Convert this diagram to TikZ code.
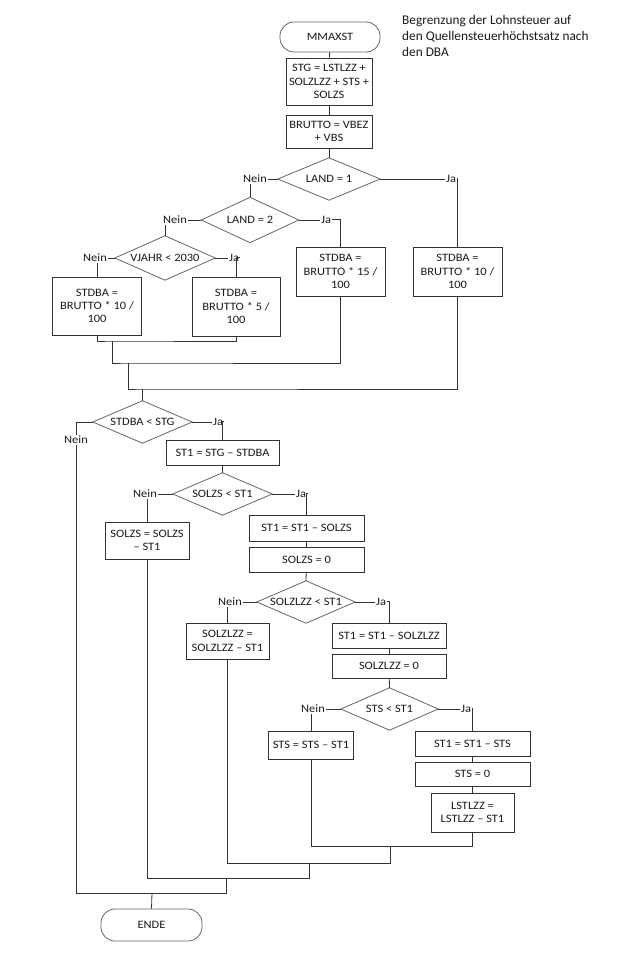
\documentclass[tikz,border=0pt]{standalone}
\usepackage{fontspec}
\setmainfont{Carlito}[FakeStretch=1.1]
\newfontfamily\annfont{Carlito}
\definecolor{linec}{HTML}{333333}
\definecolor{boxc}{HTML}{333333}
\definecolor{diac}{HTML}{666666}
\definecolor{txtc}{HTML}{1A1A1A}
\tikzset{
  sz/.style 2 args={minimum width=#1pt, minimum height=#2pt},
  box/.style={draw=boxc, line width=0.8pt, inner sep=0pt, align=center, text=txtc,
    font=\fontsize{11.3pt}{13.3pt}\selectfont},
  term/.style={draw=diac, line width=0.8pt, rounded corners=14pt, inner sep=0pt, text=txtc,
    font=\fontsize{11.3pt}{13.3pt}\selectfont},
  dia/.style={inner sep=0pt, align=center, text=txtc, font=\fontsize{11.3pt}{13.3pt}\selectfont},
  diaedge/.style={draw=diac, line width=0.8pt},
  lab/.style={inner sep=1pt, text=txtc, font=\fontsize{11.3pt}{13.3pt}\selectfont},
  conn/.style={draw=linec, line width=0.8pt},
}
\newcommand\diapath[1]{\draw[diaedge] (#1.north) -- (#1.east) -- (#1.south) -- (#1.west) -- cycle;}
\begin{document}
\begin{tikzpicture}[x=1pt,y=-1pt]
\useasboundingbox (0,0) rectangle (630,955);
\fill[white] (0,0) rectangle (630,955);

% annotation
\node[anchor=north west, inner sep=0pt, align=left, text=txtc,
  font=\annfont\fontsize{13.3pt}{16pt}\selectfont] (ann) at (402,15)
  {Begrenzung der Lohnsteuer auf\\den Quellensteuerhöchstsatz nach\\den DBA};

% top
\node[term, sz={100}{30}] (start) at (330,37) {MMAXST};
\node[box, sz={86}{47}] (stg) at (329,81.5) {STG = LSTLZZ +\\SOLZLZZ + STS +\\SOLZS};
\node[box, sz={86}{33}] (brutto) at (329,131.5) {BRUTTO = VBEZ\\+ VBS};

% LAND = 1
\node[dia, sz={102}{42}] (d1) at (329,179) {LAND = 1};
\diapath{d1}
\node[lab, anchor=east] (n1) at (268,179) {Nein};
\node[lab, anchor=west] (j1) at (445,179) {Ja};

% LAND = 2
\node[dia, sz={97}{45}] (d2) at (250,220) {LAND = 2};
\diapath{d2}
\node[lab, anchor=east] (n2) at (188,220) {Nein};
\node[lab, anchor=west] (j2) at (320,220) {Ja};

% VJAHR
\node[dia, sz={100}{44}] (d3) at (165,258) {VJAHR < 2030};
\diapath{d3}
\node[lab, anchor=east] (n3) at (108,258) {Nein};
\node[lab, anchor=west] (j3) at (228,258) {Ja};

% STDBA boxes
\node[box, sz={89}{58}] (bl10) at (97,306) {STDBA =\\BRUTTO * 10 /\\100};
\node[box, sz={88}{59}] (b5) at (236,306.5) {STDBA =\\BRUTTO * 5 /\\100};
\node[box, sz={89}{49}] (b15) at (340.5,271.5) {STDBA =\\BRUTTO * 15 /\\100};
\node[box, sz={89}{49}] (r10) at (457.5,271.5) {STDBA =\\BRUTTO * 10 /\\100};

% STDBA < STG
\node[dia, sz={99}{42}] (d4) at (142.5,422) {STDBA < STG};
\diapath{d4}
\node[lab] (nl) at (76,440) {Nein};
\node[lab, anchor=west] (j4) at (212,422) {Ja};
\node[box, sz={113}{25}] (st1) at (222.5,452.5) {ST1 = STG – STDBA};

% SOLZS < ST1
\node[dia, sz={99}{42}] (d5) at (222.5,494) {SOLZS < ST1};
\diapath{d5}
\node[lab, anchor=east] (n5) at (158,494) {Nein};
\node[lab, anchor=west] (j5) at (295,494) {Ja};
\node[box, sz={84}{37}] (sz) at (147,540.5) {SOLZS = SOLZS\\– ST1};
\node[box, sz={115}{26}] (b6) at (306.5,528) {ST1 = ST1 – SOLZS};
\node[box, sz={115}{25}] (b7) at (306.5,559.5) {SOLZS = 0};

% SOLZLZZ < ST1
\node[dia, sz={98}{42}] (d6) at (306,602) {SOLZLZZ < ST1};
\diapath{d6}
\node[lab, anchor=east] (n6) at (243,602) {Nein};
\node[lab, anchor=west] (j6) at (375,602) {Ja};
\node[box, sz={83}{36}] (slz) at (227.5,641) {SOLZLZZ =\\SOLZLZZ – ST1};
\node[box, sz={114}{25}] (b8) at (389,635.5) {ST1 = ST1 – SOLZLZZ};
\node[box, sz={114}{24}] (b9) at (389,666) {SOLZLZZ = 0};

% STS < ST1
\node[dia, sz={97}{42}] (d7) at (389.5,709) {STS < ST1};
\diapath{d7}
\node[lab, anchor=east] (n7) at (326,709) {Nein};
\node[lab, anchor=west] (j7) at (460,709) {Ja};
\node[box, sz={85}{28}] (sts) at (311,745) {STS = STS – ST1};
\node[box, sz={115}{25}] (b10) at (472.5,743.5) {ST1 = ST1 – STS};
\node[box, sz={115}{24}] (b11) at (472.5,774) {STS = 0};
\node[box, sz={83}{39}] (lst) at (472.5,812.5) {LSTLZZ =\\LSTLZZ – ST1};

% end
\node[term, sz={101}{32}] (ende) at (151.5,925) {ENDE};

% merge coordinates
\coordinate (m1) at (112,341);
\coordinate (m2) at (128,363);
\coordinate (m3) at (142.5,389);
\coordinate (m4) at (390,846);
\coordinate (m5) at (309,863);
\coordinate (m6) at (226,878);
\coordinate (m7) at (152,893);

% connectors top
\draw[conn] (start) -- (stg);
\draw[conn] (stg) -- (brutto);
\draw[conn] (brutto) -- (d1.north);

\draw[conn] (d1.west) -- (n1.east);
\draw[conn] (n1.south -| d2.north) -- (d2.north);
\draw[conn] (d1.east) -- (j1.west);
\draw[conn] ([yshift=1pt]j1.east) -| (r10.north);

\draw[conn] (d2.west) -- (n2.east);
\draw[conn] (n2.south -| d3.north) -- (d3.north);
\draw[conn] (d2.east) -- (j2.west);
\draw[conn] ([yshift=1pt]j2.east) -| (b15.north);

\draw[conn] (d3.west) -- (n3.east);
\draw[conn] (n3.south -| bl10.north) -- (bl10.north);
\draw[conn] (d3.east) -- (j3.west);
\draw[conn] ([yshift=1pt]j3.east) -| (b5.north);

% merges of STDBA
\draw[conn] (bl10.south) |- (m1) -| (b5.south);
\draw[conn] (m1) |- (m2) -| (b15.south);
\draw[conn] (m2) |- (m3) -| (r10.south);
\draw[conn] (m3) -- (d4.north);

% STDBA < STG
\draw[conn] (d4.west) -| (nl.north);
\draw[conn] (d4.east) -- (j4.west);
\draw[conn] ([yshift=1pt]j4.east) -| (st1.north);
\draw[conn] (st1) -- (d5.north);

% SOLZS < ST1
\draw[conn] (d5.west) -- (n5.east);
\draw[conn] (n5.south -| sz.north) -- (sz.north);
\draw[conn] (d5.east) -- (j5.west);
\draw[conn] ([yshift=1pt]j5.east) -| (b6.north);
\draw[conn] (b6) -- (b7);
\draw[conn] (b7) -- (d6.north);

% SOLZLZZ < ST1
\draw[conn] (d6.west) -- (n6.east);
\draw[conn] (n6.south -| slz.north) -- (slz.north);
\draw[conn] (d6.east) -- (j6.west);
\draw[conn] ([yshift=1pt]j6.east) -| (b8.north);
\draw[conn] (b8) -- (b9);
\draw[conn] (b9) -- (d7.north);

% STS < ST1
\draw[conn] (d7.west) -- (n7.east);
\draw[conn] (n7.south -| sts.north) -- (sts.north);
\draw[conn] (d7.east) -- (j7.west);
\draw[conn] ([yshift=1pt]j7.east) -| (b10.north);
\draw[conn] (b10) -- (b11);
\draw[conn] (b11) -- (lst);

% bottom merges
\draw[conn] (sts.south) |- (m4) -| (lst.south);
\draw[conn] (m4) |- (m5) -| (slz.south);
\draw[conn] (m5) |- (m6) -| (sz.south);
\draw[conn] (m6) |- (m7) -| (nl.south);
\draw[conn] (m7) -- (ende.north);
\end{tikzpicture}
\end{document}
